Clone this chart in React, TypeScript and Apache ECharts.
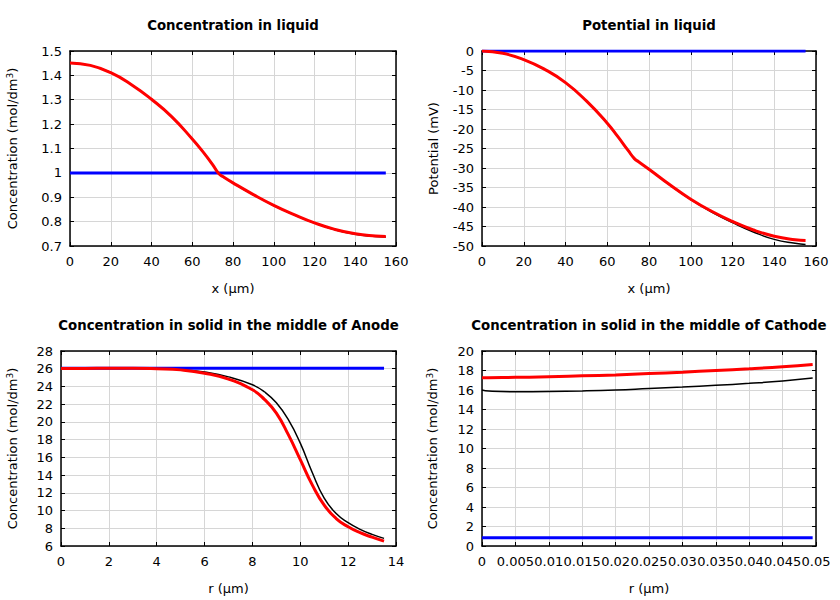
import React, { useEffect, useRef } from 'react';
import * as echarts from 'echarts';

// ---- Concentration in liquid ----
const xLiquid = [0, 10, 20, 30, 40, 50, 60, 65, 70, 73, 75, 80, 90, 100, 110, 120, 130, 140, 150, 155];
const concLiquidRed = [1.451, 1.441, 1.411, 1.363, 1.302, 1.23, 1.139, 1.089, 1.034, 0.997, 0.985, 0.959, 0.911, 0.867, 0.829, 0.795, 0.768, 0.75, 0.741, 0.739];
const concLiquidBlack = [1.451, 1.441, 1.411, 1.363, 1.302, 1.23, 1.139, 1.089, 1.034, 0.997, 0.985, 0.958, 0.91, 0.866, 0.828, 0.794, 0.767, 0.748, 0.739, 0.737];
const xLiquidInit = [0, 155];
const concLiquidInit = [1.0, 1.0];

// ---- Potential in liquid ----
const potRed = [0, -0.6, -2.2, -4.7, -8.1, -12.8, -18.5, -21.9, -25.5, -27.6, -28.4, -30.3, -34.3, -38.0, -41.1, -43.7, -45.9, -47.5, -48.4, -48.6];
const potBlack = [0, -0.6, -2.2, -4.7, -8.1, -12.8, -18.5, -21.9, -25.5, -27.6, -28.4, -30.3, -34.4, -38.1, -41.3, -44.0, -46.4, -48.3, -49.3, -49.6];
const potInit = [0, 0];

// ---- Anode solid ----
const rAnode = [0, 1, 2, 3, 4, 5, 6, 7, 8, 8.5, 9, 9.5, 10, 10.5, 11, 11.5, 12, 12.5, 13, 13.5];
const anodeRed = [26.02, 26.03, 26.05, 26.06, 26.0, 25.87, 25.5, 24.83, 23.63, 22.55, 21.0, 18.56, 15.75, 12.9, 10.6, 9.1, 8.17, 7.5, 7.0, 6.55];
const anodeBlack = [26.02, 26.02, 26.03, 26.04, 26.02, 25.92, 25.62, 25.08, 24.19, 23.4, 22.15, 20.25, 17.6, 14.3, 11.4, 9.66, 8.63, 7.88, 7.31, 6.86];
const rAnodeInit = [0, 13.5];
const anodeInit = [26.05, 26.05];

// ---- Cathode solid ----
const rCathode = [0, 0.001, 0.005, 0.01, 0.015, 0.02, 0.025, 0.03, 0.035, 0.04, 0.045, 0.0495];
const cathodeRed = [17.25, 17.26, 17.3, 17.35, 17.45, 17.55, 17.68, 17.83, 18.0, 18.17, 18.38, 18.62];
const cathodeBlack = [16.0, 15.9, 15.82, 15.84, 15.9, 16.0, 16.15, 16.3, 16.48, 16.68, 16.92, 17.22];
const rCathodeInit = [0, 0.0495];
const cathodeInit = [0.85, 0.85];

const titles = [
  'Concentration in liquid',
  'Potential in liquid',
  'Concentration in solid in the middle of Anode',
  'Concentration in solid in the middle of Cathode',
];

const FONT = 'DejaVu Sans';
const pairs = (xs: number[], ys: number[]) => xs.map((x, i) => [x, ys[i]]);

export default function App() {
  const ref = useRef<HTMLDivElement>(null);
  useEffect(() => {
    if (!ref.current) return;
    const chart = echarts.init(ref.current, null, { renderer: 'svg' });

    const grids = [
      { left: 70, top: 51, width: 326, height: 195 },
      { left: 482, top: 51, width: 334, height: 195 },
      { left: 61, top: 351, width: 335, height: 195 },
      { left: 482, top: 351, width: 334, height: 195 },
    ];
    const xCfg = [
      { min: 0, max: 160, interval: 20, name: 'x (μm)' },
      { min: 0, max: 160, interval: 20, name: 'x (μm)' },
      { min: 0, max: 14, interval: 2, name: 'r (μm)' },
      { min: 0, max: 0.05, interval: 0.005, name: 'r (μm)' },
    ];
    const concName = 'Concentration (mol/dm{sup|3})';
    const yCfg = [
      { min: 0.7, max: 1.5, interval: 0.1, name: concName, gap: 50 },
      { min: -50, max: 0, interval: 5, name: 'Potential (mV)', gap: 42 },
      { min: 6, max: 28, interval: 2, name: concName, gap: 41 },
      { min: 0, max: 20, interval: 2, name: concName, gap: 42 },
    ];
    const lineStyleAxis = { color: '#000', width: 1.5 };
    const xAxis: any[] = [];
    const yAxis: any[] = [];
    grids.forEach((_, i) => {
      const xc = xCfg[i];
      const yc = yCfg[i];
      xAxis.push({
        type: 'value', gridIndex: i, min: xc.min, max: xc.max, interval: xc.interval,
        position: 'bottom',
        name: xc.name, nameLocation: 'middle', nameGap: 36,
        nameTextStyle: { fontFamily: FONT, fontSize: 13, color: '#000' },
        axisLine: { show: true, onZero: false, lineStyle: lineStyleAxis },
        axisTick: { show: true, inside: true, length: 4, lineStyle: { color: '#000', width: 1 } },
        axisLabel: { fontFamily: FONT, fontSize: 13, color: '#000', margin: 9, showMinLabel: true, showMaxLabel: true, hideOverlap: false },
        splitLine: { show: true, lineStyle: { color: '#d6d6d6', width: 1 } },
      });
      xAxis.push({
        type: 'value', gridIndex: i, min: xc.min, max: xc.max, interval: xc.interval,
        position: 'top',
        axisLine: { show: true, onZero: false, lineStyle: lineStyleAxis },
        axisTick: { show: true, inside: true, length: 4, lineStyle: { color: '#000', width: 1 } },
        axisLabel: { show: false },
        splitLine: { show: false },
      });
      yAxis.push({
        type: 'value', gridIndex: i, min: yc.min, max: yc.max, interval: yc.interval,
        position: 'left',
        name: yc.name, nameLocation: 'middle', nameGap: yc.gap,
        nameTextStyle: {
          fontFamily: FONT, fontSize: 13, color: '#000',
          rich: { sup: { fontFamily: FONT, fontSize: 9, color: '#000', verticalAlign: 'top', padding: [0, 0, 6, 0] } },
        },
        axisLine: { show: true, onZero: false, lineStyle: lineStyleAxis },
        axisTick: { show: true, inside: true, length: 4, lineStyle: { color: '#000', width: 1 } },
        axisLabel: { fontFamily: FONT, fontSize: 13, color: '#000', margin: 8, showMinLabel: true, showMaxLabel: true },
        splitLine: { show: true, lineStyle: { color: '#d6d6d6', width: 1 } },
      });
      yAxis.push({
        type: 'value', gridIndex: i, min: yc.min, max: yc.max, interval: yc.interval,
        position: 'right',
        axisLine: { show: true, onZero: false, lineStyle: lineStyleAxis },
        axisTick: { show: true, inside: true, length: 4, lineStyle: { color: '#000', width: 1 } },
        axisLabel: { show: false },
        splitLine: { show: false },
      });
    });

    const mk = (i: number, data: number[][], color: string, width: number, z: number) => ({
      type: 'line', xAxisIndex: i * 2, yAxisIndex: i * 2, data,
      showSymbol: false, symbol: 'none', smooth: 0.5, z,
      lineStyle: { color, width }, itemStyle: { color },
      silent: true,
    });

    const series = [
      mk(0, pairs(xLiquid, concLiquidBlack), '#000', 1.5, 2),
      mk(0, pairs(xLiquidInit, concLiquidInit), '#0000ff', 3, 3),
      mk(0, pairs(xLiquid, concLiquidRed), '#ff0000', 3, 4),
      mk(1, pairs(xLiquid, potBlack), '#000', 1.5, 2),
      mk(1, pairs(xLiquidInit, potInit), '#0000ff', 3, 3),
      mk(1, pairs(xLiquid, potRed), '#ff0000', 3, 4),
      mk(2, pairs(rAnode, anodeBlack), '#000', 1.5, 2),
      mk(2, pairs(rAnodeInit, anodeInit), '#0000ff', 3, 3),
      mk(2, pairs(rAnode, anodeRed), '#ff0000', 3, 4),
      mk(3, pairs(rCathode, cathodeBlack), '#000', 1.5, 2),
      mk(3, pairs(rCathodeInit, cathodeInit), '#0000ff', 3, 3),
      mk(3, pairs(rCathode, cathodeRed), '#ff0000', 3, 4),
    ];

    const titleCenters = [
      [233, 19], [649, 19], [228.5, 319], [649, 319],
    ];

    chart.setOption({
      animation: false,
      backgroundColor: '#fff',
      title: titles.map((t, i) => ({
        text: t, left: titleCenters[i][0], top: titleCenters[i][1], textAlign: 'center', padding: 0,
        textStyle: { fontFamily: FONT, fontSize: 13.3, fontWeight: 'bold', color: '#000' },
      })),
      grid: grids,
      xAxis,
      yAxis,
      series,
    });
    return () => chart.dispose();
  }, []);
  return <div ref={ref} style={{ position: 'fixed', left: 0, top: 0, width: 840, height: 600 }} />;
}
